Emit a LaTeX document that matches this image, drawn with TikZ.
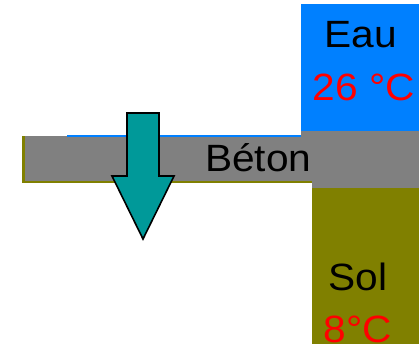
\documentclass[tikz,border=0pt]{standalone}
\usepackage{fontspec}
\setmainfont{Liberation Sans}
\definecolor{eaublue}{HTML}{0080FF}
\definecolor{betongray}{HTML}{808080}
\definecolor{sololive}{HTML}{808000}
\definecolor{arrowteal}{HTML}{009999}
\begin{document}
\begin{tikzpicture}[x=1pt,y=-1pt,
  lbl/.style={inner sep=0pt,font=\fontsize{38}{40}\selectfont,anchor=base,xscale=1.07},
  red/.style={text=red}]
\useasboundingbox (0,0) rectangle (419,346);
% beton strip
\fill[sololive] (22,136) rectangle (312,183);
\fill[betongray] (25,136) rectangle (312,181);
\fill[eaublue] (67,135) rectangle (301,137);
\fill[betongray] (301,131) rectangle (312,137);
\node[lbl,anchor=base west] (beton) at (205,171) {Béton};
% right column
\fill[betongray] (312,131) rectangle (419,188);
\fill[eaublue] (301,4) rectangle (419,131);
\fill[sololive] (312,188) rectangle (419,344);
\node[lbl] (eau) at (361,47) {Eau};
\node[lbl,red] (teau) at (364,100) {26 °C};
\node[lbl] (sol) at (358,290) {Sol};
\node[lbl,red] (tsol) at (358,342) {8°C};
% arrow
\draw[fill=arrowteal,line width=1.6pt,line join=miter]
  (127,113) -- (159,113) -- (159,176) -- (174,176) -- (143,239) -- (112,176) -- (127,176) -- cycle;
\end{tikzpicture}
\end{document}
